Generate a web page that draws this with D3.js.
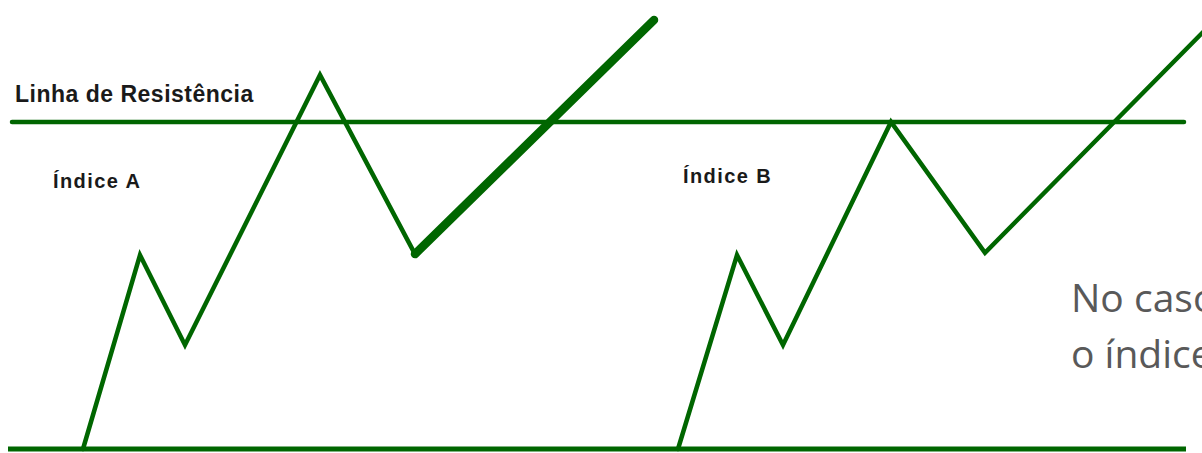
<!DOCTYPE html>
<html>
<head>
<meta charset="utf-8">
<script src="https://cdn.jsdelivr.net/npm/d3@7"></script>
<style>
  body { margin: 0; background: #fff; overflow: hidden; }
</style>
</head>
<body>
<div id="chart-area"></div>
<script>
const WIDTH = 1202
const HEIGHT = 453

// price levels: 0 = base line, 100 = resistance
const supportLevel = 0
const resistanceLevel = 100

// Índice A path (time, price)
const indexATime = [8.3, 14.0, 18.5, 32.0, 41.5]
const indexAPrice = [0, 59.3, 31.8, 114.4, 59.6]
// breakout leg of A (drawn thicker)
const breakoutATime = [41.5, 65.4]
const breakoutAPrice = [59.6, 131.2]

// Índice B path
const indexBTime = [67.8, 73.7, 78.3, 89.1, 98.5, 121.5]
const indexBPrice = [0, 59.3, 31.8, 100, 60.0, 131.2]

const labels = ['Linha de Resistência', 'Índice A', 'Índice B']
const noteLines = ['No caso', 'o índice']

const svg = d3.select('#chart-area').append('svg')
  .attr('width', WIDTH)
  .attr('height', HEIGHT)

const x = d3.scaleLinear().domain([0, 120.2]).range([0, WIDTH])
const y = d3.scaleLinear().domain([0, 100]).range([449, 122])

const green = '#006600'

// horizontal lines
svg.append('line')
  .attr('x1', x(1.2)).attr('x2', x(118.4))
  .attr('y1', y(resistanceLevel)).attr('y2', y(resistanceLevel))
  .attr('stroke', green).attr('stroke-width', 4.5)
  .attr('stroke-linecap', 'round')

svg.append('line')
  .attr('x1', x(0.8)).attr('x2', x(118.6))
  .attr('y1', y(supportLevel)).attr('y2', y(supportLevel))
  .attr('stroke', green).attr('stroke-width', 5)

const line = d3.line()
  .x(d => x(d[0]))
  .y(d => y(d[1]))

const drawPath = (times, prices, width) => {
  svg.append('path')
    .datum(d3.zip(times, prices))
    .attr('d', line)
    .attr('fill', 'none')
    .attr('stroke', green)
    .attr('stroke-width', width)
    .attr('stroke-linejoin', 'miter')
    .attr('stroke-linecap', 'round')
}

drawPath(indexATime, indexAPrice, 4.5)
drawPath(breakoutATime, breakoutAPrice, 8.5)
drawPath(indexBTime, indexBPrice, 4.5)

// labels
svg.append('text')
  .attr('x', 15).attr('y', 102)
  .text(labels[0])
  .attr('font-family', 'Liberation Sans, Arial, sans-serif')
  .attr('font-weight', 'bold')
  .attr('font-size', '23px')
  .attr('letter-spacing', '0.5px')
  .attr('fill', '#1a1a1a')

svg.append('text')
  .attr('x', 53).attr('y', 188)
  .text(labels[1])
  .attr('font-family', 'Liberation Sans, Arial, sans-serif')
  .attr('font-weight', 'bold')
  .attr('font-size', '20px')
  .attr('letter-spacing', '1.4px')
  .attr('fill', '#1a1a1a')

svg.append('text')
  .attr('x', 683).attr('y', 183)
  .text(labels[2])
  .attr('font-family', 'Liberation Sans, Arial, sans-serif')
  .attr('font-weight', 'bold')
  .attr('font-size', '20px')
  .attr('letter-spacing', '1.4px')
  .attr('fill', '#1a1a1a')

// side note (cut at the right edge, as in the source)
svg.selectAll('.note')
  .data(noteLines)
  .enter().append('text')
  .attr('class', 'note')
  .attr('x', 1071)
  .attr('y', (d, i) => 312 + i * 56)
  .text(d => d)
  .attr('font-family', 'Open Sans, sans-serif')
  .attr('font-size', '39px')
  .attr('fill', '#595959')
</script>
</body>
</html>
